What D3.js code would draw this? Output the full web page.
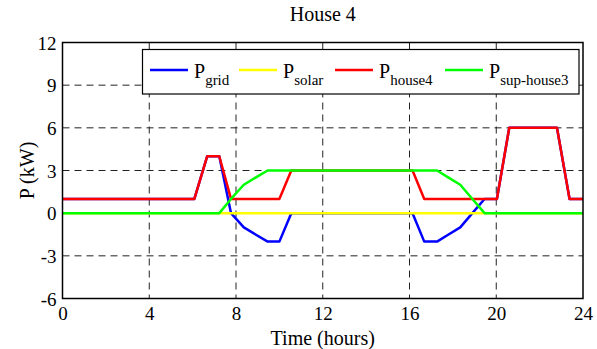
<!DOCTYPE html>
<html>
<head>
<meta charset="utf-8">
<script src="https://cdn.jsdelivr.net/npm/d3@7"></script>
<style>
  body { margin: 0; background: #fff; }
  svg, svg text { font-family: "Liberation Serif", "Times New Roman", serif; }
  svg { display: block; }
</style>
</head>
<body>
<svg id="chart" width="597" height="349"></svg>
<script>
// data
const hours = [0, 6.08, 6.67, 7.23, 7.77, 8.36, 8.9, 9.46, 10.0, 10.55, 16.14, 16.68, 17.27, 17.8, 18.34, 18.9, 19.46, 20.03, 20.6, 22.8, 23.38, 24];
const pGrid = [1, 1, 4, 4, 0, -1, -1.5, -2, -2, 0, 0, -2, -2, -1.5, -1, 0, 1, 1, 6, 6, 1, 1];
const pSolar = [0, 0, 0, 0, 0, 0, 0, 0, 0, 0, 0, 0, 0, 0, 0, 0, 0, 0, 0, 0, 0, 0];
const pHouse4 = [1, 1, 4, 4, 1, 1, 1, 1, 1, 3, 3, 1, 1, 1, 1, 1, 1, 1, 6, 6, 1, 1];
const pSupHouse3 = [0, 0, 0, 0, 1, 2, 2.5, 3, 3, 3, 3, 3, 3, 2.5, 2, 1, 0, 0, 0, 0, 0, 0];

const xTicks = [0, 4, 8, 12, 16, 20, 24];
const yTicks = [-6, -3, 0, 3, 6, 9, 12];

const series = [
    { name: 'P', sub: 'grid', values: pGrid, color: '#0000ff' },
    { name: 'P', sub: 'solar', values: pSolar, color: '#ffff00' },
    { name: 'P', sub: 'house4', values: pHouse4, color: '#ff0000' },
    { name: 'P', sub: 'sup-house3', values: pSupHouse3, color: '#00ff00' }
];

const FONT = '"Liberation Serif", "Times New Roman", serif';

const svg = d3.select('#chart');
const margin = { top: 42.5, right: 14, bottom: 50.5, left: 62.5 };
const width = 597 - margin.left - margin.right;
const height = 349 - margin.top - margin.bottom;

const g = svg.append('g')
             .attr('transform', `translate(${margin.left},${margin.top})`);

const x = d3.scaleLinear().domain([0, 24]).range([0, width]);
const y = d3.scaleLinear().domain([-6, 12]).range([height, 0]);

// grille en pointillés
g.selectAll('.vgrid')
 .data(xTicks.slice(1, -1))
 .enter().append('line')
 .attr('x1', d => x(d)).attr('x2', d => x(d))
 .attr('y1', 0).attr('y2', height)
 .attr('stroke', '#222').attr('stroke-width', 1)
 .attr('stroke-dasharray', '7,5');

g.selectAll('.hgrid')
 .data(yTicks.slice(1, -1))
 .enter().append('line')
 .attr('x1', 0).attr('x2', width)
 .attr('y1', d => y(d)).attr('y2', d => y(d))
 .attr('stroke', '#222').attr('stroke-width', 1)
 .attr('stroke-dasharray', '7,5');

// courbes
series.forEach(s => {
    const line = d3.line()
                   .x((d, i) => x(hours[i]))
                   .y(d => y(d));
    g.append('path')
     .datum(s.values)
     .attr('fill', 'none')
     .attr('stroke', s.color)
     .attr('stroke-width', 2.5)
     .attr('stroke-linejoin', 'round')
     .attr('d', line);
});

// axes
const fmt = d => String(d); // tiret simple comme dans l'original
const xAxis = g.append('g')
               .attr('transform', `translate(0,${height})`)
               .call(d3.axisBottom(x).tickValues(xTicks).tickFormat(fmt).tickSize(0).tickPadding(7));
const yAxis = g.append('g')
               .call(d3.axisLeft(y).tickValues(yTicks).tickFormat(fmt).tickSize(0).tickPadding(6));

[xAxis, yAxis].forEach(a => {
    a.attr('font-family', FONT).attr('font-size', 19);
    a.select('.domain').remove();
    a.selectAll('text')
     .style('font-family', FONT)
     .attr('fill', '#000');
});
yAxis.selectAll('text').attr('dy', '0.35em');
xAxis.selectAll('text').attr('dy', '0.75em');

// cadre
g.append('rect')
 .attr('x', 0).attr('y', 0)
 .attr('width', width).attr('height', height)
 .attr('fill', 'none')
 .attr('stroke', '#000')
 .attr('stroke-width', 1.5);

// titres
svg.append('text')
   .attr('x', margin.left + width / 2)
   .attr('y', 21)
   .attr('text-anchor', 'middle')
   .style('font-family', FONT)
   .attr('font-size', 20)
   .text('House 4');

svg.append('text')
   .attr('x', margin.left + width / 2)
   .attr('y', 345)
   .attr('text-anchor', 'middle')
   .style('font-family', FONT)
   .attr('font-size', 20)
   .text('Time (hours)');

svg.append('text')
   .attr('transform', 'rotate(-90)')
   .attr('x', -(margin.top + height / 2))
   .attr('y', 34)
   .attr('text-anchor', 'middle')
   .style('font-family', FONT)
   .attr('font-size', 20)
   .text('P (kW)');

// légende
const legend = svg.append('g');
legend.append('rect')
      .attr('x', 142.5).attr('y', 49.5)
      .attr('width', 436.5).attr('height', 44.5)
      .attr('fill', '#fff')
      .attr('stroke', '#000')
      .attr('stroke-width', 1.2);

const legendX = [150, 239, 335, 445];
series.forEach((s, i) => {
    legend.append('line')
          .attr('x1', legendX[i]).attr('x2', legendX[i] + 38)
          .attr('y1', 70).attr('y2', 70)
          .attr('stroke', s.color)
          .attr('stroke-width', 2.5);
    const t = legend.append('text')
                    .attr('x', legendX[i] + 44)
                    .attr('y', 78)
                    .style('font-family', FONT)
                    .attr('font-size', 20);
    t.append('tspan').text(s.name);
    t.append('tspan').attr('dy', 7).attr('font-size', 15).text(s.sub);
});
</script>
</body>
</html>
